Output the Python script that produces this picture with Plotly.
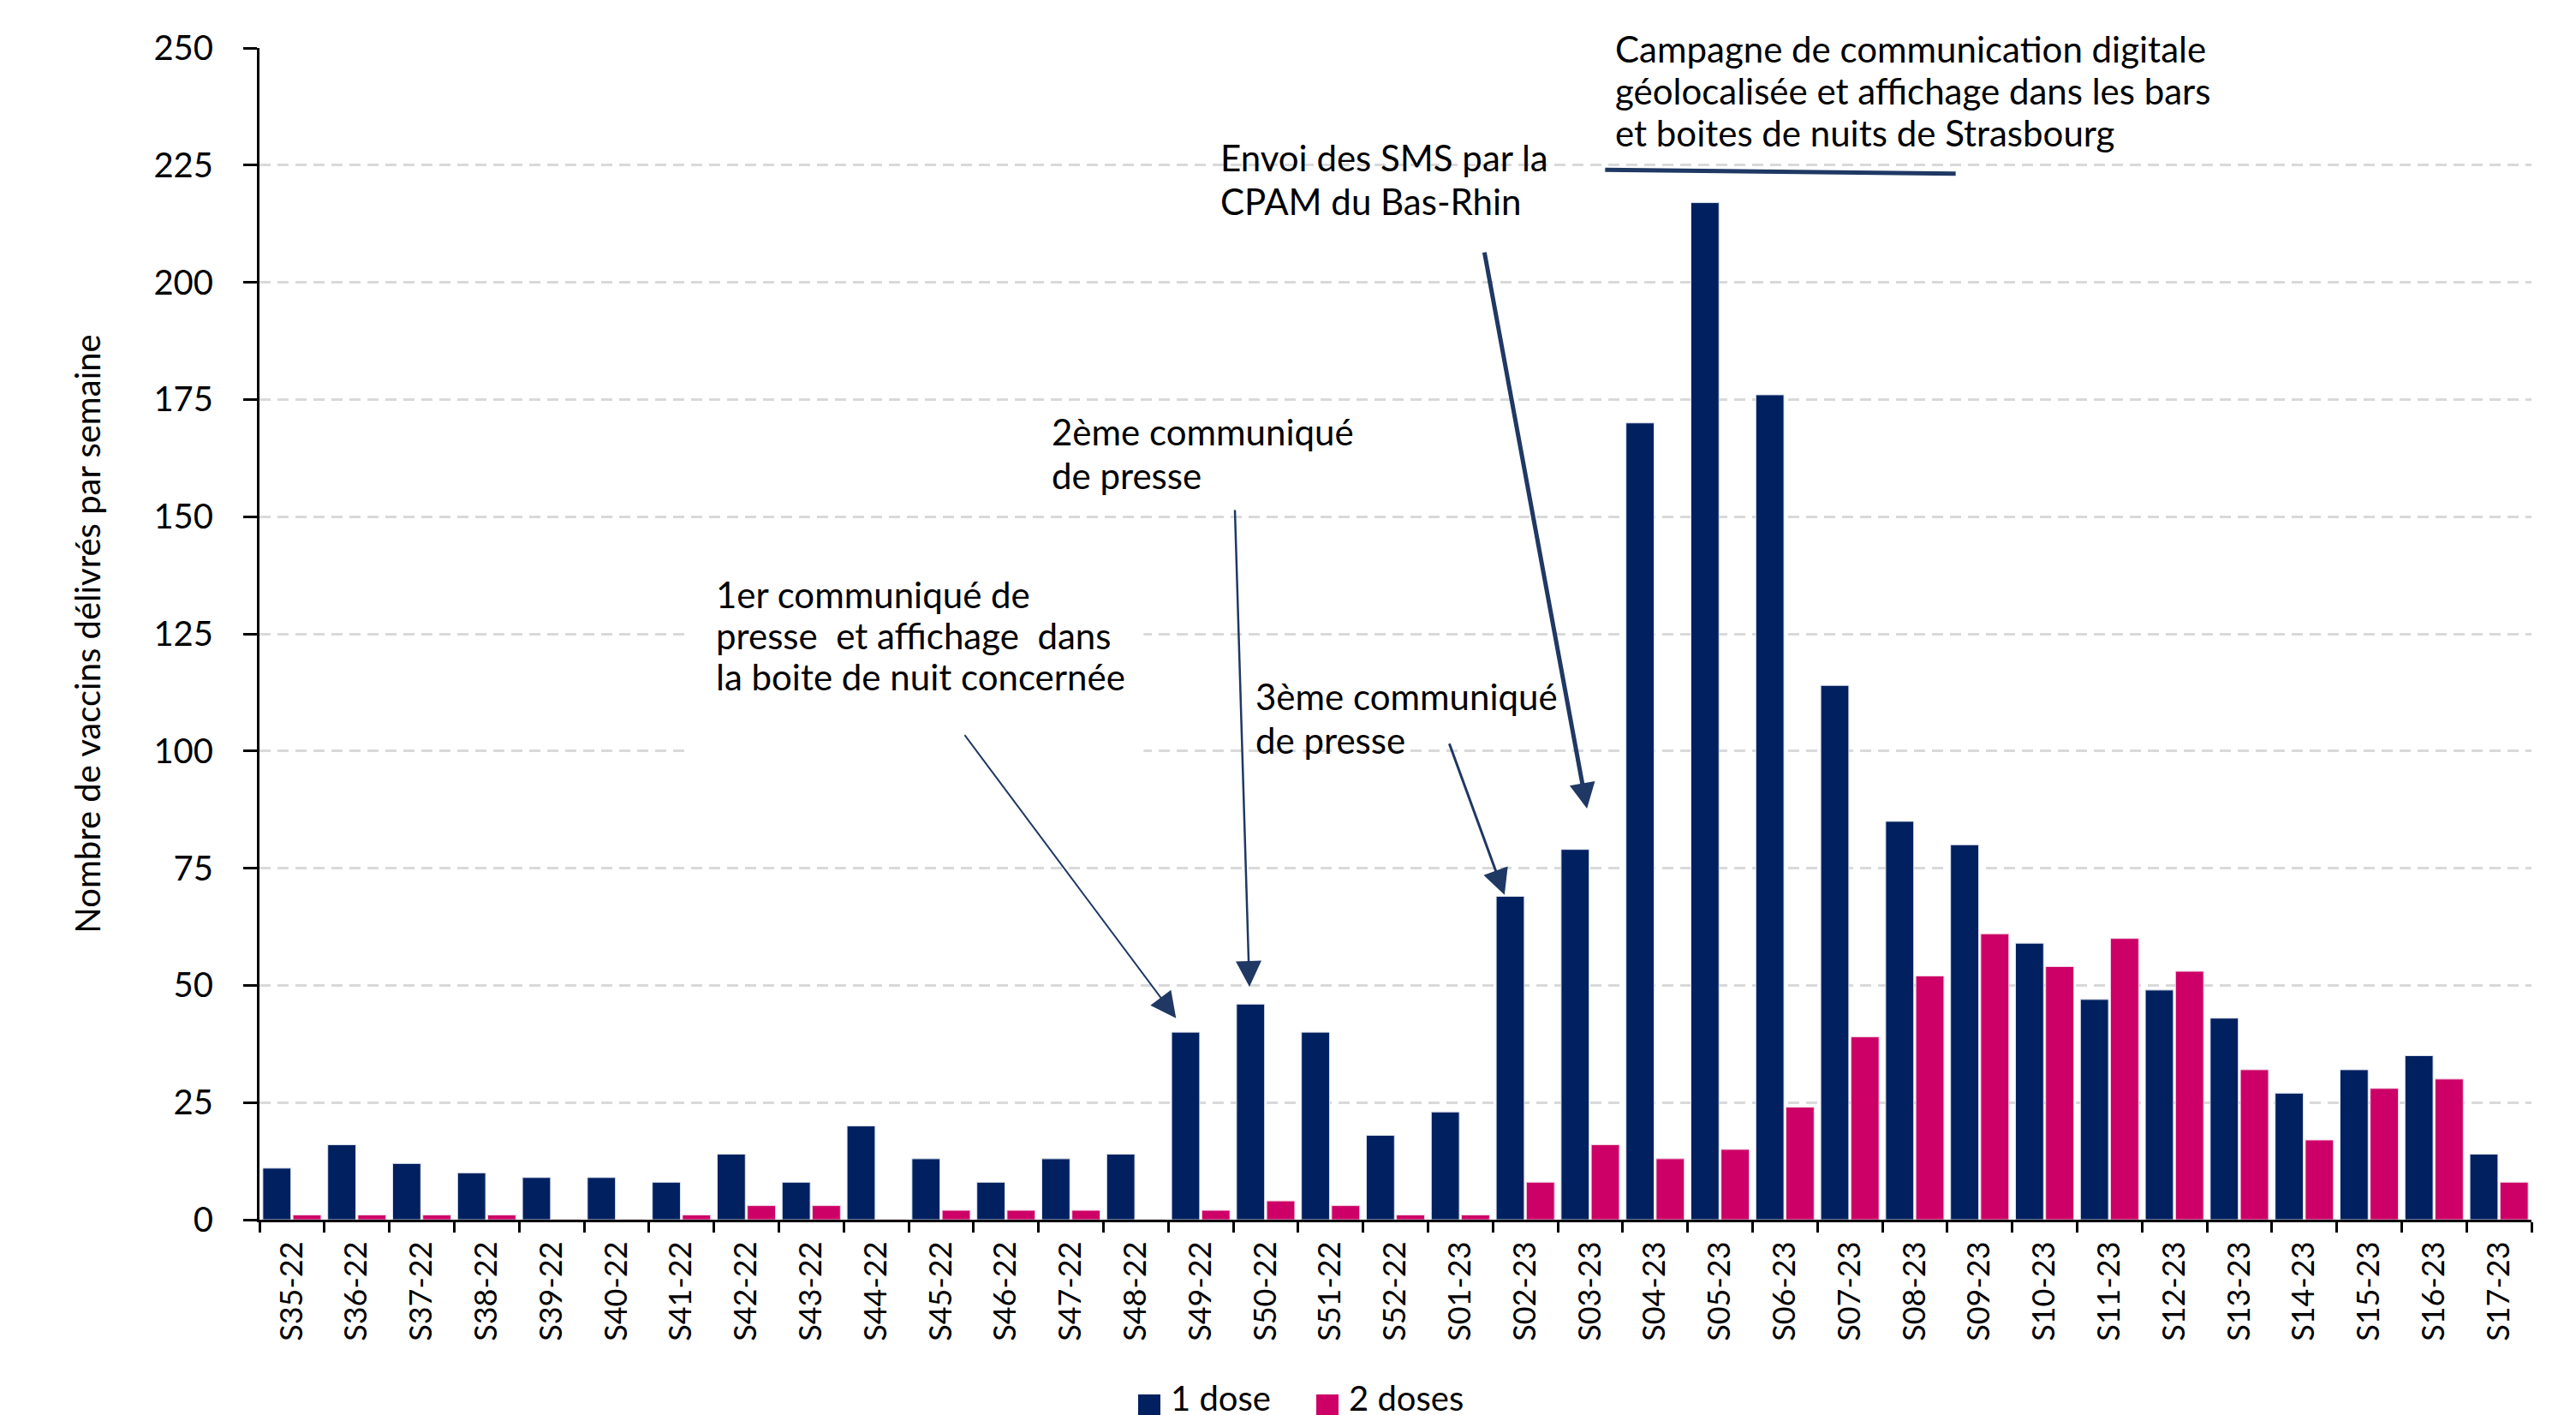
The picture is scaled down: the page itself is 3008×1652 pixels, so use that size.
import plotly.graph_objects as go

# weekly deliveries
weeks = ["S35-22", "S36-22", "S37-22", "S38-22", "S39-22", "S40-22", "S41-22", "S42-22",
         "S43-22", "S44-22", "S45-22", "S46-22", "S47-22", "S48-22", "S49-22", "S50-22",
         "S51-22", "S52-22", "S01-23", "S02-23", "S03-23", "S04-23", "S05-23", "S06-23",
         "S07-23", "S08-23", "S09-23", "S10-23", "S11-23", "S12-23", "S13-23", "S14-23",
         "S15-23", "S16-23", "S17-23"]
dose1 = [11, 16, 12, 10, 9, 9, 8, 14, 8, 20, 13, 8, 13, 14, 40, 46, 40, 18,
         23, 69, 79, 170, 217, 176, 114, 85, 80, 59, 47, 49, 43, 27, 32, 35, 14]
dose2 = [1, 1, 1, 1, 0, 0, 1, 3, 3, 0, 2, 2, 2, 0, 2, 4, 3, 1,
         1, 8, 16, 13, 15, 24, 39, 52, 61, 54, 60, 53, 32, 17, 28, 30, 8]
series_names = ["1 dose", "2 doses"]
y_ticks = [0, 25, 50, 75, 100, 125, 150, 175, 200, 225, 250]

NAVY = "#002060"
PINK = "#CC0066"
ARROW = "#1F3864"
FONT = "Lato"

W, H = 3008, 1652
L, R, T, B = 295, 60, 48, 236

fig = go.Figure()
fig.add_trace(go.Bar(x=weeks, y=dose1, name=series_names[0], marker_color=NAVY,
                     marker_line=dict(color="#dfe4ee", width=1), showlegend=False))
fig.add_trace(go.Bar(x=weeks, y=dose2, name=series_names[1], marker_color=PINK,
                     marker_line=dict(color="#f3d0e0", width=1), showlegend=False))

def wi(label):
    return weeks.index(label)

# white box behind the first note (hides the gridlines there)
fig.add_shape(type="rect", xref="x", yref="y", x0=6.12, x1=13.12, y0=97.5, y1=138,
              fillcolor="white", line_width=0, layer="between")

# campaign bracket line
fig.add_shape(type="line", xref="x", yref="y", x0=wi("S04-23") - 0.77, x1=wi("S08-23") + 0.63,
              y0=224, y1=223.2, line=dict(color=ARROW, width=5), layer="above")

# notes: lines, left position (category index), centre of the first line (value), line step (px)
notes = [
    (["1er communiqué de", "presse  et affichage  dans", "la boite de nuit concernée"], 6.64, 133.4, 48),
    (["2ème communiqué", "de presse"], 11.81, 168.1, 51),
    (["3ème communiqué", "de presse"], 14.95, 111.7, 51),
    (["Envoi des SMS par la", "CPAM du Bas-Rhin"], 14.41, 226.6, 51),
    (["Campagne de communication digitale", "géolocalisée et affichage dans les bars",
      "et boites de nuits de Strasbourg"], 20.49, 249.8, 49),
]
for lines, xi, yv, step in notes:
    for i, line in enumerate(lines):
        fig.add_annotation(text=line, x=xi, y=yv, xref="x", yref="y", showarrow=False,
                           xanchor="left", yanchor="middle", align="left",
                           xshift=-10, yshift=-i * step,
                           font=dict(family=FONT, size=42, color="black"))

# arrows: (target week, x offset in category, gap above bar, tail dx, tail dy, width)
arrows = [
    ("S49-22", -0.38, 3.0, -248, -332, 2),
    ("S50-22", -0.25, 3.7, -17, -558, 2.5),
    ("S02-23", -0.32, 0.3, -65, -178, 3),
    ("S03-23", -0.05, 8.7, -120, -651, 5),
]
for wk, dx, gap, ax, ay, lw in arrows:
    fig.add_annotation(x=wi(wk) + dx, y=dose1[wi(wk)] + gap, xref="x", yref="y",
                       ax=ax, ay=ay, axref="pixel", ayref="pixel", text="",
                       showarrow=True, arrowhead=2, arrowsize=max(1.2, 6 / lw),
                       arrowwidth=lw, arrowcolor=ARROW)

# legend drawn by hand so the swatches match the reference size
plot_w, plot_h = W - L - R, H - T - B
def px(xp):
    return (xp - L) / plot_w
def py(yp):
    return (H - B - yp) / plot_h
legend_items = [(series_names[0], NAVY, 1321), (series_names[1], PINK, 1529)]
for name, col, x0 in legend_items:
    fig.add_shape(type="rect", xref="paper", yref="paper", x0=px(x0), x1=px(x0 + 26),
                  y0=py(1620), y1=py(1653), fillcolor=col, line_width=0)
    fig.add_annotation(text=name, xref="paper", yref="paper", x=px(x0 + 36), y=py(1598),
                       xanchor="left", yanchor="top", showarrow=False,
                       font=dict(family=FONT, size=40, color="black"))

fig.update_layout(
    width=W, height=H,
    margin=dict(l=L, r=R, t=T, b=B, autoexpand=False),
    paper_bgcolor="white", plot_bgcolor="white",
    barmode="group", bargap=0.07, bargroupgap=0.07,
    font=dict(family=FONT, size=36, color="black"),
)
fig.update_xaxes(
    type="category", tickson="boundaries", ticks="outside", ticklen=12, tickwidth=3,
    tickcolor="black", showline=True, linecolor="black", linewidth=3,
    showgrid=False, tickangle=-90, tickfont=dict(family=FONT, size=36, color="black"),
    ticklabelstandoff=8,
)
fig.update_yaxes(
    range=[0, 250], tickvals=y_ticks, ticks="outside", ticklen=16, tickwidth=3,
    tickcolor="black", showline=True, linecolor="black", linewidth=3,
    showgrid=True, gridcolor="#D9D9D9", gridwidth=3, griddash="13px,8px",
    zeroline=False, tickfont=dict(family=FONT, size=40, color="black"),
    ticklabelstandoff=27,
    title=dict(text="Nombre de vaccins délivrés par semaine", standoff=50,
               font=dict(family=FONT, size=40, color="black")),
)

fig.write_html("out.html")
